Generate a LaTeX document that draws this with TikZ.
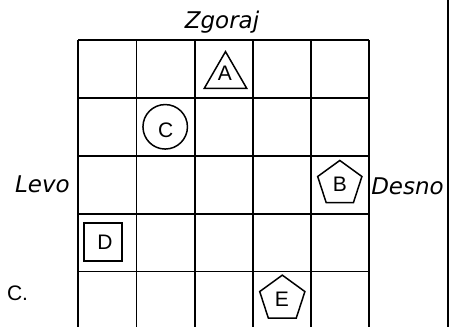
\documentclass[tikz,border=0pt]{standalone}
\usepackage{fontspec}
\setmainfont{Liberation Sans}
\newfontfamily\labfont{DejaVu Sans}
\usetikzlibrary{shapes.geometric}
\begin{document}
\begin{tikzpicture}[x=1pt,y=-1pt,
  gridline/.style={line width=1.7pt},
  shp/.style={draw, line width=1.5pt, inner sep=0pt, outer sep=0pt},
  letter/.style={inner sep=0pt, font=\fontsize{21}{21}\selectfont},
  side/.style={inner sep=0pt, font=\labfont\itshape\fontsize{23}{23}\selectfont}]
\useasboundingbox (0,0) rectangle (459,327);
% grid
\foreach \k in {0,...,4}
  \draw[gridline] (78.3,40.3+\k*57.8) -- (369.3,40.3+\k*57.8);
\foreach \k in {0,...,5}
  \draw[gridline] (78.3+\k*58.2,40.3) -- (78.3+\k*58.2,327);
% right border line
\draw[line width=1.8pt] (447.7,0) -- (447.7,327);
% shapes
\node[shp, regular polygon, regular polygon sides=3, minimum size=49pt] (A) at (225.5,76.1) {};
\node[shp, circle, minimum size=44.5pt] (C) at (165.2,126.8) {};
\node[shp, regular polygon, regular polygon sides=5, minimum size=46.5pt] (B) at (339.8,183.7) {};
\node[shp, rectangle, minimum size=38pt, line width=1.8pt] (D) at (103.3,241.7) {};
\node[shp, regular polygon, regular polygon sides=5, minimum size=47.5pt] (E) at (282.3,298.9) {};
% letters
\node[letter] (tA) at (224.9,73.3) {A};
\node[letter] (tC) at (165.7,130.5) {C};
\node[letter] (tB) at (340,184.7) {B};
\node[letter] (tD) at (105,242.7) {D};
\node[letter] (tE) at (282,299.2) {E};
% side labels
\node[side, anchor=base] (top) at (222,28.3) {Zgoraj};
\node[side, anchor=base] (left) at (42.5,192.3) {Levo};
\node[side, anchor=base] (right) at (407.5,194.3) {Desno};
\node[letter, anchor=base] (cdot) at (17.5,300.7) {C.};
\end{tikzpicture}
\end{document}
